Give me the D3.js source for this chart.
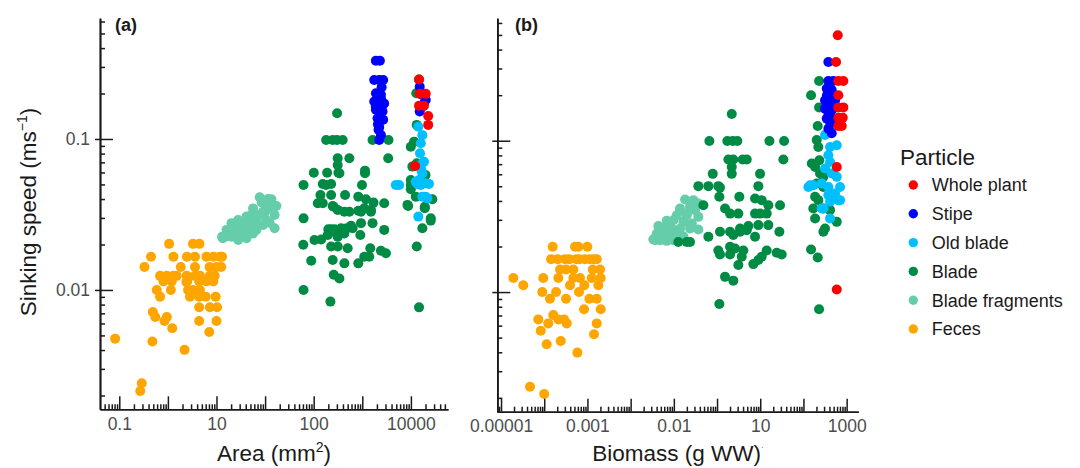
<!DOCTYPE html>
<html>
<head>
<meta charset="utf-8">
<script src="https://cdn.jsdelivr.net/npm/d3@7"></script>
<style>
  body { margin: 0; background: #fff; }
  text { font-family: "Liberation Sans", Arial, sans-serif; }
</style>
</head>
<body>
<svg id="chart" width="1080" height="468"></svg>
<script>
// ---------------- DATA ----------------
const categories = ["Whole plant", "Stipe", "Old blade", "Blade", "Blade fragments", "Feces"];
const categoryColors = ["#ff0000", "#0000ff", "#00bfff", "#008b45", "#66cdaa", "#ffa500"];
const drawOrder = ["Feces", "Blade fragments", "Blade", "Old blade", "Stipe", "Whole plant"];

// Panel (a): [area (mm2), sinking speed (m/s)]
const areaWholePlant = [[147000,0.248],[152000,0.199],[202000,0.199],[147000,0.166],[186000,0.166],[227000,0.142],[227000,0.124],[122000,0.0662]];
const areaStipe = [[19000,0.33],[23000,0.33],[17600,0.246],[22300,0.246],[26900,0.246],[25000,0.22],[19100,0.201],[24200,0.196],[20600,0.19],[24200,0.185],[17600,0.177],[28200,0.172],[22300,0.168],[19000,0.165],[25500,0.165],[21600,0.16],[19100,0.156],[26100,0.152],[23000,0.145],[20600,0.137],[26900,0.134],[21000,0.125],[22300,0.12],[21600,0.115],[24200,0.106],[22300,0.0985],[152000,0.222],[172000,0.196],[202000,0.181],[172000,0.164],[152000,0.152],[186000,0.172]];
const areaOldBlade = [[142000,0.1205],[172000,0.106],[160000,0.0937],[154000,0.0804],[186000,0.0707],[160000,0.0673],[164000,0.0624],[172000,0.0593],[147000,0.0535],[202000,0.051],[136000,0.0504],[235000,0.0504],[160000,0.0495],[126000,0.052],[172000,0.0415],[217000,0.0405],[200000,0.0415],[49000,0.0495],[57300,0.0495],[142000,0.0306]];
const areaBlade = [[3031,0.148],[1804,0.0985],[2462,0.0985],[3031,0.0985],[3948,0.0985],[16250,0.0985],[34600,0.0985],[3119,0.0745],[5415,0.0745],[34100,0.0745],[3119,0.0673],[3380,0.0593],[1005,0.0598],[1891,0.0598],[3223,0.0598],[11360,0.0617],[11360,0.0593],[618,0.0495],[1537,0.0503],[1804,0.0495],[2285,0.0503],[9860,0.0495],[1378,0.0426],[2285,0.0426],[4421,0.0426],[8279,0.0415],[11900,0.0399],[17050,0.0379],[1213,0.0375],[1537,0.0375],[2582,0.0356],[2462,0.036],[3119,0.0339],[4277,0.033],[5415,0.033],[8279,0.0335],[9400,0.033],[10990,0.0348],[15070,0.0339],[15070,0.033],[28250,0.0375],[618,0.0298],[16250,0.0277],[9400,0.0277],[5866,0.0266],[3662,0.0256],[2285,0.0252],[2000,0.0252],[2700,0.0252],[3500,0.0252],[4800,0.0256],[28250,0.025],[1038,0.0214],[1425,0.0216],[1945,0.0231],[2668,0.0243],[3119,0.0225],[4277,0.0237],[6325,0.0256],[9100,0.0231],[610,0.0199],[2285,0.0194],[3119,0.0194],[4997,0.0189],[14580,0.0189],[24170,0.0182],[30600,0.0175],[889,0.0156],[2462,0.0158],[4277,0.015],[8279,0.015],[10990,0.0166],[13900,0.0166],[2582,0.0126],[3380,0.0119],[618,0.01],[2209,0.00837],[147000,0.248],[129000,0.201],[132000,0.124],[116400,0.096],[99500,0.0889],[132000,0.069],[107000,0.0656],[200000,0.0578],[99500,0.0535],[99500,0.0495],[99500,0.0464],[126000,0.0415],[87700,0.036],[85000,0.0366],[193000,0.0348],[193000,0.0356],[276000,0.0399],[256000,0.0288],[256000,0.0298],[172000,0.0256],[132000,0.0194],[147000,0.00767]];
const areaFragments = [[77.5,0.0411],[135,0.0399],[171,0.036],[106,0.0375],[56.5,0.0347],[90.6,0.033],[157,0.0314],[41.4,0.0306],[66.4,0.0298],[106,0.0291],[124,0.0279],[20.4,0.0277],[27.9,0.0291],[35.3,0.0269],[48.3,0.0262],[66.4,0.025],[16.1,0.025],[22,0.0256],[30.2,0.025],[41.4,0.0243],[56.5,0.0237],[14.9,0.0225],[20.4,0.0225],[27.9,0.0214],[41.4,0.022],[157,0.0256],[23.8,0.0237],[35.3,0.0231],[90.6,0.0269],[77.5,0.0314],[60,0.028],[45,0.029],[100,0.033],[140,0.037],[18,0.024],[25,0.0232],[70,0.031],[120,0.035],[85,0.038],[115,0.04],[32,0.027],[50,0.031],[13,0.0225],[13.5,0.022]];
const areaFeces = [[1.06,0.0202],[3.28,0.0202],[4.46,0.0202],[0.45,0.0166],[1.3,0.0166],[2.47,0.0166],[3.61,0.0166],[6.21,0.0166],[8.64,0.0166],[11.7,0.0166],[13,0.0166],[0.33,0.0142],[1.84,0.0142],[3.61,0.0142],[7.2,0.0142],[10,0.0142],[12.5,0.0142],[0.69,0.0124],[0.95,0.0124],[1.3,0.0124],[1.52,0.0124],[2.44,0.0124],[3.61,0.0124],[4.57,0.0124],[7.3,0.0124],[9.2,0.0124],[0.81,0.0114],[1.2,0.0114],[2.5,0.0114],[2.4,0.0113],[4.4,0.0114],[6.2,0.0114],[8.6,0.0114],[0.59,0.01],[1.15,0.01],[2.6,0.01],[3.3,0.01],[4.57,0.01],[0.69,0.00903],[2.85,0.00903],[4.4,0.00903],[6,0.00903],[9.6,0.00903],[4.4,0.00768],[7.3,0.00768],[10.3,0.00768],[0.49,0.00715],[0.55,0.00662],[0.95,0.00662],[0.85,0.00623],[4.4,0.00623],[10,0.00623],[1.23,0.00557],[7.1,0.00527],[0.082,0.00476],[0.48,0.00455],[2.2,0.00401],[0.29,0.00241],[0.27,0.00214]];

// Panel (b): [biomass (g WW), sinking speed (m/s)]
const biomassWholePlant = [[622,0.497],[568,0.331],[642,0.248],[839,0.248],[642,0.2],[642,0.166],[839,0.166],[642,0.142],[812,0.142],[642,0.125],[770,0.125],[590,0.0671],[590,0.0104]];
const biomassStipe = [[377,0.331],[377,0.248],[492,0.248],[346,0.221],[452,0.216],[350,0.2],[400,0.2],[500,0.2],[316,0.185],[452,0.185],[539,0.185],[420,0.175],[520,0.165],[316,0.163],[452,0.159],[380,0.15],[346,0.14],[492,0.14],[420,0.13],[377,0.12],[452,0.112]];
const biomassOldBlade = [[413,0.123],[316,0.109],[590,0.0934],[413,0.091],[377,0.0802],[413,0.0724],[316,0.0656],[452,0.0607],[590,0.0577],[142,0.0508],[265,0.0522],[377,0.0495],[703,0.0495],[539,0.0448],[377,0.0437],[703,0.0405],[642,0.0405],[413,0.0395],[289,0.0357],[265,0.0357],[413,0.0306],[130,0.0495],[169,0.0508]];
const biomassBlade = [[2.19,0.15],[0.664,0.0997],[1.73,0.0997],[2.31,0.0997],[2.95,0.0997],[16.3,0.0997],[35.6,0.0997],[1.83,0.0752],[2.38,0.0752],[3.93,0.0752],[4.87,0.0752],[34.3,0.0752],[2.19,0.0671],[2.19,0.0604],[0.795,0.0604],[9.89,0.0604],[0.369,0.0501],[0.629,0.0501],[1.07,0.0501],[1.17,0.049],[9.04,0.0501],[1.13,0.0426],[3.28,0.0426],[7.58,0.0415],[10.8,0.0405],[15.4,0.0375],[28.7,0.0375],[0.482,0.0375],[1.53,0.0357],[2.0,0.033],[3.11,0.033],[7.58,0.033],[9.89,0.033],[14.1,0.033],[15.4,0.0277],[9.04,0.0277],[5.31,0.0273],[3.41,0.0263],[2.0,0.025],[1.17,0.025],[2.38,0.0238],[3.41,0.025],[4.87,0.0256],[7.58,0.0232],[0.629,0.0232],[27.7,0.025],[0.127,0.0214],[0.199,0.0214],[0.237,0.0214],[2.0,0.0199],[2.61,0.0194],[1.07,0.0188],[1.17,0.0177],[4.06,0.0188],[3.73,0.0171],[14.1,0.0188],[10.8,0.0171],[9.04,0.0163],[6.92,0.0153],[24.1,0.0182],[31.4,0.0177],[2.0,0.0177],[3.11,0.0151],[1.53,0.0126],[2.38,0.0119],[1.13,0.00834],[230,0.248],[150,0.2],[230,0.166],[214,0.125],[203,0.101],[221,0.091],[156,0.0707],[186,0.0671],[233,0.0743],[242,0.0607],[289,0.0577],[203,0.0522],[289,0.0495],[186,0.0426],[221,0.0405],[169,0.0357],[289,0.0357],[413,0.0348],[186,0.0306],[590,0.0291],[316,0.0263],[289,0.025],[150,0.0191],[214,0.0169],[230,0.00769]];
const biomassFragments = [[0.182,0.0409],[0.283,0.0405],[0.369,0.0385],[0.139,0.0357],[0.237,0.0366],[0.31,0.0348],[0.117,0.0322],[0.199,0.0322],[0.369,0.0314],[0.0685,0.0296],[0.0974,0.0298],[0.166,0.0291],[0.26,0.0284],[0.0438,0.0273],[0.0625,0.027],[0.0894,0.0263],[0.139,0.0263],[0.237,0.0263],[0.369,0.0259],[0.0402,0.0244],[0.0572,0.0244],[0.0817,0.0238],[0.127,0.0244],[0.166,0.0234],[0.0335,0.0223],[0.048,0.022],[0.0685,0.0218],[0.0974,0.022],[0.139,0.0223],[0.0367,0.022],[0.199,0.033],[0.139,0.0348]];
const biomassFeces = [[1.57e-4,0.0199],[5.16e-4,0.0199],[6.16e-4,0.0199],[9.95e-4,0.0199],[1.44e-4,0.0165],[2.05e-4,0.0165],[3.03e-4,0.0165],[3.81e-4,0.0165],[5.6e-4,0.0165],[6.49e-4,0.0165],[8.79e-4,0.0165],[1.15e-3,0.0165],[1.4e-3,0.0165],[1.64e-3,0.0165],[2.32e-4,0.0141],[3.2e-4,0.0141],[4.72e-4,0.0141],[1.33e-3,0.0141],[1.96e-3,0.0141],[1.93e-5,0.0124],[9.5e-5,0.0124],[2.12e-4,0.0124],[4.72e-4,0.0124],[6.74e-4,0.0124],[1.26e-3,0.0124],[2.03e-3,0.0124],[3.28e-5,0.0111],[3.95e-4,0.0111],[8.47e-4,0.0111],[1.79e-3,0.0111],[9.0e-5,0.01],[1.88e-4,0.01],[6.39e-4,0.01],[1.36e-4,0.00903],[3.2e-4,0.00903],[1.11e-3,0.00903],[1.64e-3,0.00903],[8.34e-4,0.00769],[2.03e-3,0.00769],[1.62e-4,0.00705],[2.87e-4,0.0066],[7.3e-5,0.0066],[1.24e-4,0.00621],[2.12e-4,0.0066],[3.32e-4,0.00621],[1.64e-3,0.00621],[8.3e-5,0.00555],[1.42e-3,0.00526],[1.14e-4,0.00452],[2.41e-4,0.00475],[5.84e-4,0.00398],[4.69e-5,0.00237],[1.0e-4,0.00212]];

// Tick labels (as printed in the figure)
const xTicksA = [0.1, 10, 1000, 100000];
const xTickLabelsA = ["0.1", "10", "100", "10000"];
const xTicksB = [1e-5, 1e-3, 1e-1, 10, 1000];
const xTickLabelsB = ["0.00001", "0.001", "0.01", "10", "1000"];
const yTicks = [0.1, 0.01];
const yTickLabelsA = ["0.1", "0.01"];

// ---------------- DRAWING ----------------
const svg = d3.select("#chart");
svg.append("rect").attr("width", 1080).attr("height", 468).attr("fill", "#fff");
const axisColor = "#1a1a1a";
const tickTextColor = "#4d4d4d";
const colorOf = d3.scaleOrdinal().domain(categories).range(categoryColors);

const panels = [
  { id: "a", left: 100, right: 448, top: 18.3, bottom: 409.3,
    xDomain: [0.0401, 5.8e5], yDomain: [0.00162, 0.63],
    xTicks: xTicksA, xLabels: xTickLabelsA, yLabels: yTickLabelsA,
    series: { "Whole plant": areaWholePlant, "Stipe": areaStipe, "Old blade": areaOldBlade,
              "Blade": areaBlade, "Blade fragments": areaFragments, "Feces": areaFeces },
    label: "(a)", labelX: 115 },
  { id: "b", left: 497.3, right: 858.3, top: 18.3, bottom: 411.7,
    xDomain: [8.2e-6, 1860], yDomain: [0.00162, 0.644],
    xTicks: xTicksB, xLabels: xTickLabelsB, yLabels: null,
    series: { "Whole plant": biomassWholePlant, "Stipe": biomassStipe, "Old blade": biomassOldBlade,
              "Blade": biomassBlade, "Blade fragments": biomassFragments, "Feces": biomassFeces },
    label: "(b)", labelX: 515 }
];

function decadeTicks(domain) {
  const lo = Math.floor(Math.log10(domain[0])), hi = Math.ceil(Math.log10(domain[1]));
  const majors = [], minors = [];
  for (let e = lo; e <= hi; e++) {
    for (let k = 1; k <= 9; k++) {
      const v = +(k + "e" + e);
      if (v < domain[0] || v > domain[1]) continue;
      (k === 1 ? majors : minors).push(v);
    }
  }
  return { majors, minors };
}

function styleAxis(g) {
  g.selectAll("path, line").attr("stroke", axisColor).attr("stroke-width", 1.5);
  g.selectAll("text").attr("fill", tickTextColor).attr("font-size", 17.5)
    .attr("font-family", "'Liberation Sans', Arial, sans-serif");
}

panels.forEach(p => {
  const x = d3.scaleLog().domain(p.xDomain).range([p.left, p.right]);
  const y = d3.scaleLog().domain(p.yDomain).range([p.bottom, p.top]);
  const g = svg.append("g").attr("class", "panel-" + p.id);
  const xt = decadeTicks(p.xDomain), yt = decadeTicks(p.yDomain);
  const labelMap = new Map(p.xTicks.map((v, i) => [Math.round(Math.log10(v)), p.xLabels[i]]));

  // points
  drawOrder.forEach(cat => {
    g.append("g").selectAll("circle").data(p.series[cat]).join("circle")
      .attr("cx", d => x(d[0])).attr("cy", d => y(d[1])).attr("r", 5)
      .attr("fill", colorOf(cat));
  });

  // x axis minor
  g.append("g").attr("transform", `translate(0,${p.bottom})`)
    .call(d3.axisBottom(x).tickValues(xt.minors).tickSize(-5).tickSizeOuter(0).tickFormat(""))
    .call(styleAxis);
  // x axis major
  g.append("g").attr("transform", `translate(0,${p.bottom})`)
    .call(d3.axisBottom(x).tickValues(xt.majors).tickSize(-13).tickSizeOuter(0).tickPadding(8)
      .tickFormat(d => labelMap.get(Math.round(Math.log10(d))) || ""))
    .call(styleAxis);

  // y axis minor
  g.append("g").attr("transform", `translate(${p.left},0)`)
    .call(d3.axisLeft(y).tickValues(yt.minors).tickSize(-5).tickSizeOuter(0).tickFormat(""))
    .call(styleAxis);
  // y axis major (inward)
  g.append("g").attr("transform", `translate(${p.left},0)`)
    .call(d3.axisLeft(y).tickValues(yTicks).tickSize(-13).tickSizeOuter(0).tickFormat(""))
    .call(styleAxis);
  // y axis major (outward + labels)
  g.append("g").attr("transform", `translate(${p.left},0)`)
    .call(d3.axisLeft(y).tickValues(yTicks).tickSize(5).tickSizeOuter(0).tickPadding(5)
      .tickFormat((d, i) => p.yLabels ? p.yLabels[i] : ""))
    .call(styleAxis);

  // panel label
  svg.append("text").attr("x", p.labelX).attr("y", 31)
    .attr("font-size", 18).attr("font-weight", "bold").attr("fill", axisColor).text(p.label);
});

// Axis titles
const titleSize = 22.5;
const xtA = svg.append("text").attr("x", 274).attr("y", 461).attr("text-anchor", "middle")
  .attr("font-size", titleSize).attr("fill", axisColor);
xtA.append("tspan").text("Area (mm");
xtA.append("tspan").attr("font-size", 14).attr("dy", -9).text("2");
xtA.append("tspan").attr("dy", 9).text(")");

const xtB = svg.append("text").attr("x", 678).attr("y", 461).attr("text-anchor", "middle")
  .attr("font-size", titleSize).attr("fill", axisColor);
xtB.append("tspan").text("Biomass (g WW)");
xtB.append("tspan").attr("font-size", 9).attr("dy", -11).attr("fill", "#777").text("·");

const yt = svg.append("text").attr("transform", "translate(36,212) rotate(-90)")
  .attr("text-anchor", "middle").attr("font-size", titleSize).attr("fill", axisColor);
yt.append("tspan").text("Sinking speed (ms");
yt.append("tspan").attr("font-size", 14).attr("dy", -9).text("−1");
yt.append("tspan").attr("dy", 9).text(")");

// Legend
const legend = svg.append("g");
legend.append("text").attr("x", 900).attr("y", 165).attr("font-size", 22.5)
  .attr("fill", axisColor).text("Particle");
categories.forEach((c, i) => {
  const cy = 185 + i * 28.8;
  legend.append("circle").attr("cx", 913.3).attr("cy", cy).attr("r", 4.7).attr("fill", colorOf(c));
  legend.append("text").attr("x", 931.7).attr("y", cy).attr("dy", "0.35em")
    .attr("font-size", 18).attr("fill", axisColor).text(c);
});
</script>
</body>
</html>
